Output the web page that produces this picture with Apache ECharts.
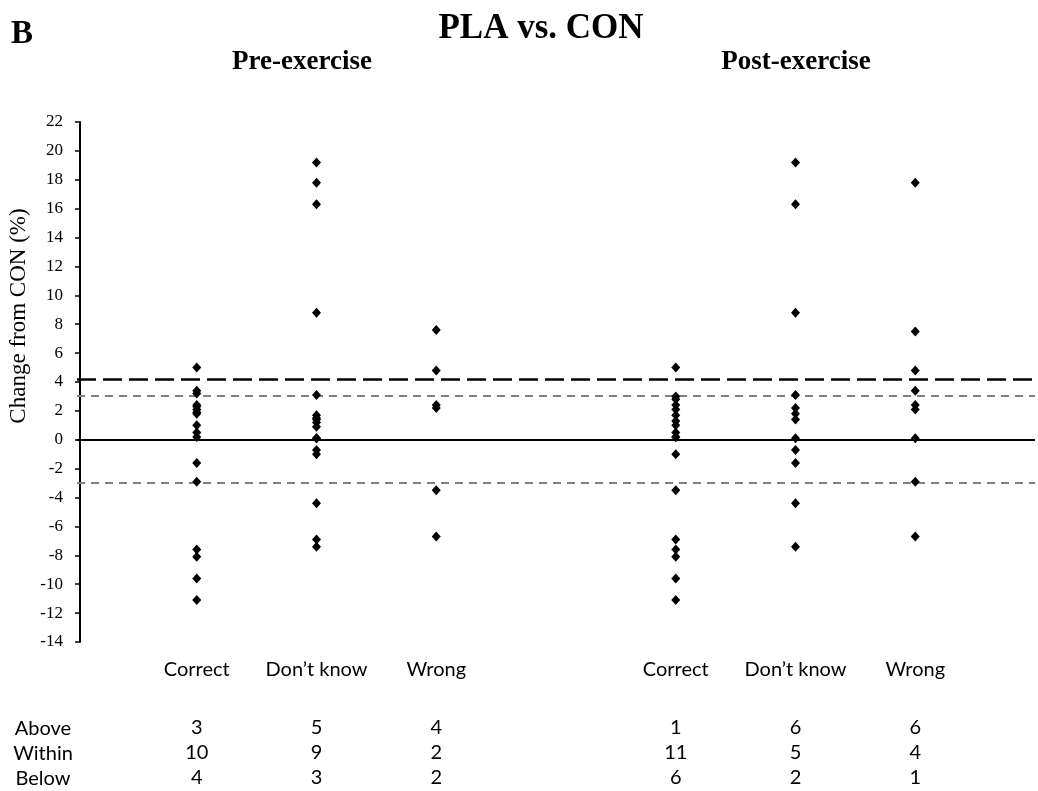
<!DOCTYPE html>
<html>
<head>
<meta charset="utf-8">
<script src="https://cdn.jsdelivr.net/npm/echarts@6/dist/echarts.min.js"></script>
<style>
html,body{margin:0;padding:0;background:#fff;}
#chart{width:1038px;height:791px;}
</style>
</head>
<body>
<div id="chart"></div>
<script>
// ---- data ----
const categoryLabels = ['Correct', 'Don\u2019t know', 'Wrong', 'Correct', 'Don\u2019t know', 'Wrong'];
const categoryPositions = [1, 2, 3, 5, 6, 7];
const preCorrect   = [5.0, 3.4, 3.2, 2.4, 2.3, 2.1, 1.9, 1.8, 1.0, 0.5, 0.2, -1.6, -2.9, -7.6, -8.1, -9.6, -11.1];
const preDontKnow  = [19.2, 17.8, 16.3, 8.8, 3.1, 1.7, 1.5, 1.4, 1.2, 0.9, 0.1, 0.1, -0.7, -1.0, -4.4, -6.9, -7.4];
const preWrong     = [7.6, 4.8, 2.4, 2.2, -3.5, -6.7];
const postCorrect  = [5.0, 3.0, 2.8, 2.4, 2.1, 1.7, 1.3, 1.0, 0.5, 0.2, 0.2, -1.0, -3.5, -6.9, -7.6, -8.1, -9.6, -11.1];
const postDontKnow = [19.2, 16.3, 8.8, 3.1, 2.2, 1.8, 1.4, 0.1, -0.7, -1.6, -4.4, -7.4];
const postWrong    = [17.8, 7.5, 4.8, 3.4, 2.4, 2.1, 0.1, -2.9, -6.7];
const columns = [preCorrect, preDontKnow, preWrong, postCorrect, postDontKnow, postWrong];
const aboveCounts  = [3, 5, 4, 1, 6, 6];
const withinCounts = [10, 9, 2, 11, 5, 4];
const belowCounts  = [4, 3, 2, 6, 2, 1];
const rowNames = ['Above', 'Within', 'Below'];
const rowCounts = [aboveCounts, withinCounts, belowCounts];
const zeroLine = 0;
const upperThreshold = 4.2;
const bandLines = [3.05, -2.95];
const yTicks = {min: -14, max: 22, interval: 2};

// ---- chart ----
const chart = echarts.init(document.getElementById('chart'), null, {renderer: 'canvas'});
const serif = 'Liberation Serif';
const sans = 'Lato';

function countFormatter(arr) {
  return function (v) {
    const i = categoryPositions.indexOf(Math.round(v));
    return (i >= 0 && Math.abs(v - Math.round(v)) < 1e-6) ? String(arr[i]) : '';
  };
}
function baseX(extra) {
  return Object.assign({
    type: 'value', min: 0, max: 8, interval: 1, position: 'bottom',
    axisLine: {show: false}, axisTick: {show: false}, splitLine: {show: false}
  }, extra);
}
const rowOffsets = [68, 93, 118];
const xAxes = [baseX({
  axisLabel: {
    margin: 18, color: '#000', fontFamily: sans, fontSize: 20,
    formatter: function (v) {
      const i = categoryPositions.indexOf(Math.round(v));
      return (i >= 0 && Math.abs(v - Math.round(v)) < 1e-6) ? categoryLabels[i] : '';
    }
  }
})];
rowCounts.forEach(function (arr, r) {
  xAxes.push(baseX({
    offset: rowOffsets[r],
    axisLabel: {margin: 8, color: '#000', fontFamily: sans, fontSize: 20, formatter: countFormatter(arr)}
  }));
});

const series = columns.map(function (col, ci) {
  return {
    type: 'scatter', xAxisIndex: 0, yAxisIndex: 0,
    symbol: 'diamond', symbolSize: [9, 10],
    itemStyle: {color: '#000', opacity: 1},
    z: 5,
    data: col.map(function (v) { return [categoryPositions[ci], v]; })
  };
});
series.push({
  type: 'line', xAxisIndex: 0, yAxisIndex: 0, data: [], silent: true,
  markLine: {
    symbol: 'none', silent: true, animation: false,
    label: {show: false},
    data: [
      {yAxis: bandLines[0], lineStyle: {color: '#808080', type: [8, 6], width: 2}},
      {yAxis: bandLines[1], lineStyle: {color: '#808080', type: [8, 6], width: 2}},
      {yAxis: upperThreshold, lineStyle: {color: '#000', type: [19, 7], width: 2.5}},
      {yAxis: zeroLine, lineStyle: {color: '#000', type: 'solid', width: 2}}
    ]
  }
});

const option = {
  animation: false,
  backgroundColor: '#fff',
  grid: {left: 77, right: 1, top: 122, bottom: 149, containLabel: false},
  xAxis: xAxes,
  yAxis: {
    type: 'value', min: yTicks.min, max: yTicks.max, interval: yTicks.interval,
    offset: -3,
    axisLine: {show: true, onZero: false, lineStyle: {color: '#000', width: 2}},
    axisTick: {show: true, inside: false, length: 5, lineStyle: {color: '#000', width: 1.5}},
    splitLine: {show: false},
    axisLabel: {margin: 17, color: '#000', fontFamily: serif, fontSize: 17}
  },
  graphic: [
    {type: 'text', left: 11, top: 18, style: {text: 'B', font: 'bold 33px "Liberation Serif"', fill: '#000'}},
    {type: 'text', x: 541, y: 29, style: {text: 'PLA vs. CON', font: 'bold 35px "Liberation Serif"', fill: '#000', textAlign: 'center', textVerticalAlign: 'middle'}},
    {type: 'text', x: 302, y: 62, style: {text: 'Pre-exercise', font: 'bold 27px "Liberation Serif"', fill: '#000', textAlign: 'center', textVerticalAlign: 'middle'}},
    {type: 'text', x: 796, y: 62, style: {text: 'Post-exercise', font: 'bold 27px "Liberation Serif"', fill: '#000', textAlign: 'center', textVerticalAlign: 'middle'}},
    {type: 'text', x: 19, y: 316, rotation: Math.PI / 2, style: {text: 'Change from CON (%)', font: '23px "Liberation Serif"', fill: '#000', textAlign: 'center', textVerticalAlign: 'middle'}},
    {type: 'text', x: 43, y: 729, style: {text: rowNames[0], font: '20px Lato', fill: '#000', textAlign: 'center', textVerticalAlign: 'middle'}},
    {type: 'text', x: 43, y: 754, style: {text: rowNames[1], font: '20px Lato', fill: '#000', textAlign: 'center', textVerticalAlign: 'middle'}},
    {type: 'text', x: 43, y: 779, style: {text: rowNames[2], font: '20px Lato', fill: '#000', textAlign: 'center', textVerticalAlign: 'middle'}}
  ],
  series: series
};
chart.setOption(option);
</script>
</body>
</html>
